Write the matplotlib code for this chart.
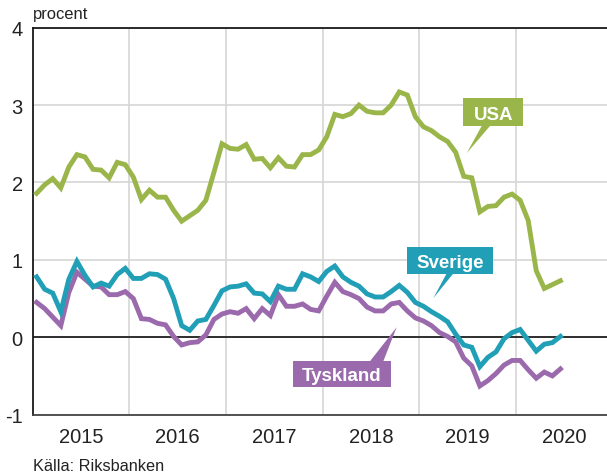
import numpy as np
import matplotlib.pyplot as plt
from matplotlib.patches import Rectangle, Polygon

plt.rcParams['font.family'] = ['Liberation Sans', 'DejaVu Sans']

# monthly data, Jan 2015 - Jun 2020
start_year = 2015
usa = [1.86, 1.97, 2.05, 1.93, 2.20, 2.36, 2.33, 2.17, 2.16, 2.06, 2.26, 2.23,
       2.07, 1.78, 1.90, 1.81, 1.81, 1.64, 1.50, 1.57, 1.64, 1.77, 2.13, 2.50,
       2.44, 2.43, 2.49, 2.30, 2.31, 2.19, 2.32, 2.21, 2.20, 2.36, 2.36, 2.42,
       2.59, 2.88, 2.85, 2.89, 3.00, 2.92, 2.90, 2.90, 3.00, 3.17, 3.13, 2.85,
       2.72, 2.67, 2.59, 2.53, 2.39, 2.08, 2.06, 1.62, 1.69, 1.70, 1.81, 1.85,
       1.77, 1.51, 0.86, 0.63, 0.68, 0.73]
sverige = [0.78, 0.62, 0.57, 0.33, 0.75, 0.98, 0.80, 0.65, 0.70, 0.66, 0.81, 0.89,
           0.76, 0.76, 0.82, 0.81, 0.75, 0.50, 0.15, 0.09, 0.21, 0.23, 0.41, 0.60,
           0.65, 0.66, 0.69, 0.57, 0.56, 0.46, 0.66, 0.62, 0.62, 0.82, 0.78, 0.72,
           0.85, 0.92, 0.78, 0.71, 0.66, 0.56, 0.52, 0.52, 0.59, 0.67, 0.58, 0.45,
           0.40, 0.33, 0.27, 0.20, 0.04, -0.10, -0.13, -0.38, -0.26, -0.19, -0.02, 0.06,
           0.10, -0.04, -0.18, -0.09, -0.07, 0.01]
tyskland = [0.45, 0.37, 0.26, 0.15, 0.58, 0.84, 0.75, 0.66, 0.65, 0.55, 0.55, 0.59,
            0.50, 0.24, 0.23, 0.18, 0.16, 0.01, -0.10, -0.07, -0.06, 0.03, 0.23, 0.30,
            0.33, 0.31, 0.37, 0.24, 0.37, 0.28, 0.55, 0.40, 0.40, 0.43, 0.36, 0.34,
            0.53, 0.71, 0.59, 0.55, 0.50, 0.39, 0.34, 0.34, 0.43, 0.45, 0.34, 0.25,
            0.21, 0.15, 0.06, 0.01, -0.06, -0.27, -0.37, -0.63, -0.56, -0.47, -0.36, -0.30,
            -0.30, -0.42, -0.53, -0.45, -0.50, -0.41]
years = [2015, 2016, 2017, 2018, 2019, 2020]
yticks = [-1, 0, 1, 2, 3, 4]

green = '#9ab64a'
teal = '#209fb6'
purple = '#9a6aad'

t = start_year + (np.arange(len(usa)) + 0.5) / 12

fig = plt.figure(figsize=(6.07, 4.77), dpi=100)
ax = fig.add_axes([0.0537, 0.1287, 0.9463, 0.8111])

lw = 3.5
ax.plot(t, usa, color=green, lw=lw, solid_joinstyle='miter', zorder=3)
ax.plot(t, tyskland, color=purple, lw=lw, solid_joinstyle='miter', zorder=3)
ax.plot(t, sverige, color=teal, lw=lw, solid_joinstyle='miter', zorder=4)

ax.axhline(0, color='black', lw=1.1, zorder=2)

ax.set_xlim(2015, 2020.94)
ax.set_ylim(-1, 4)

# gridlines at year boundaries, labels mid-year
ax.set_xticks(years[1:])
ax.set_xticklabels([])
ax.set_xticks([y + 0.5 for y in years], minor=True)
ax.set_xticklabels([str(y) for y in years], minor=True)
ax.set_yticks(yticks)
ax.set_yticklabels([str(v) for v in yticks])
ax.tick_params(which='both', length=0, labelsize=14.5, colors='#222222')
ax.tick_params(axis='y', pad=7)
ax.tick_params(axis='x', which='minor', pad=9)
ax.grid(True, which='major', color='#d6d6d6', lw=1.2, zorder=0)

for side in ['left', 'top']:
    ax.spines[side].set_color('#1a1a1a')
    ax.spines[side].set_linewidth(1.3)
ax.spines['bottom'].set_color('#444444')
ax.spines['bottom'].set_linewidth(1.3)
ax.spines['right'].set_visible(False)

# callout labels: box (x0, x1, y0, y1), tail base (xa, xb) on edge y, tip
def callout(text, box, base, base_y, tip, color):
    x0, x1, y0, y1 = box
    ax.add_patch(Rectangle((x0, y0), x1 - x0, y1 - y0, fc=color, ec='none', zorder=6))
    ax.add_patch(Polygon([(base[0], base_y), (base[1], base_y), tip], closed=True,
                         fc=color, ec='none', zorder=6))
    ax.text((x0 + x1) / 2, (y0 + y1) / 2, text, ha='center', va='center_baseline',
            fontsize=13.5, fontweight='bold', color='white', zorder=7)

callout('USA', (2019.454, 2020.074, 2.724, 3.092), (2019.644, 2019.730), 2.73,
        (2019.489, 2.378), green)
callout('Sverige', (2018.869, 2019.764, 0.819, 1.164), (2019.282, 2019.351), 0.825,
        (2019.144, 0.505), teal)
callout('Tyskland', (2017.690, 2018.706, -0.647, -0.303), (2018.489, 2018.627), -0.31,
        (2018.765, 0.129), purple)

fig.text(33 / 607, 1 - 15 / 477, 'procent', fontsize=11.9, color='#222222',
         ha='left', va='center')
fig.text(33 / 607, 1 - 467 / 477, 'Källa: Riksbanken', fontsize=11.7,
         color='#222222', ha='left', va='center')

fig.savefig('out.png', dpi=100)
